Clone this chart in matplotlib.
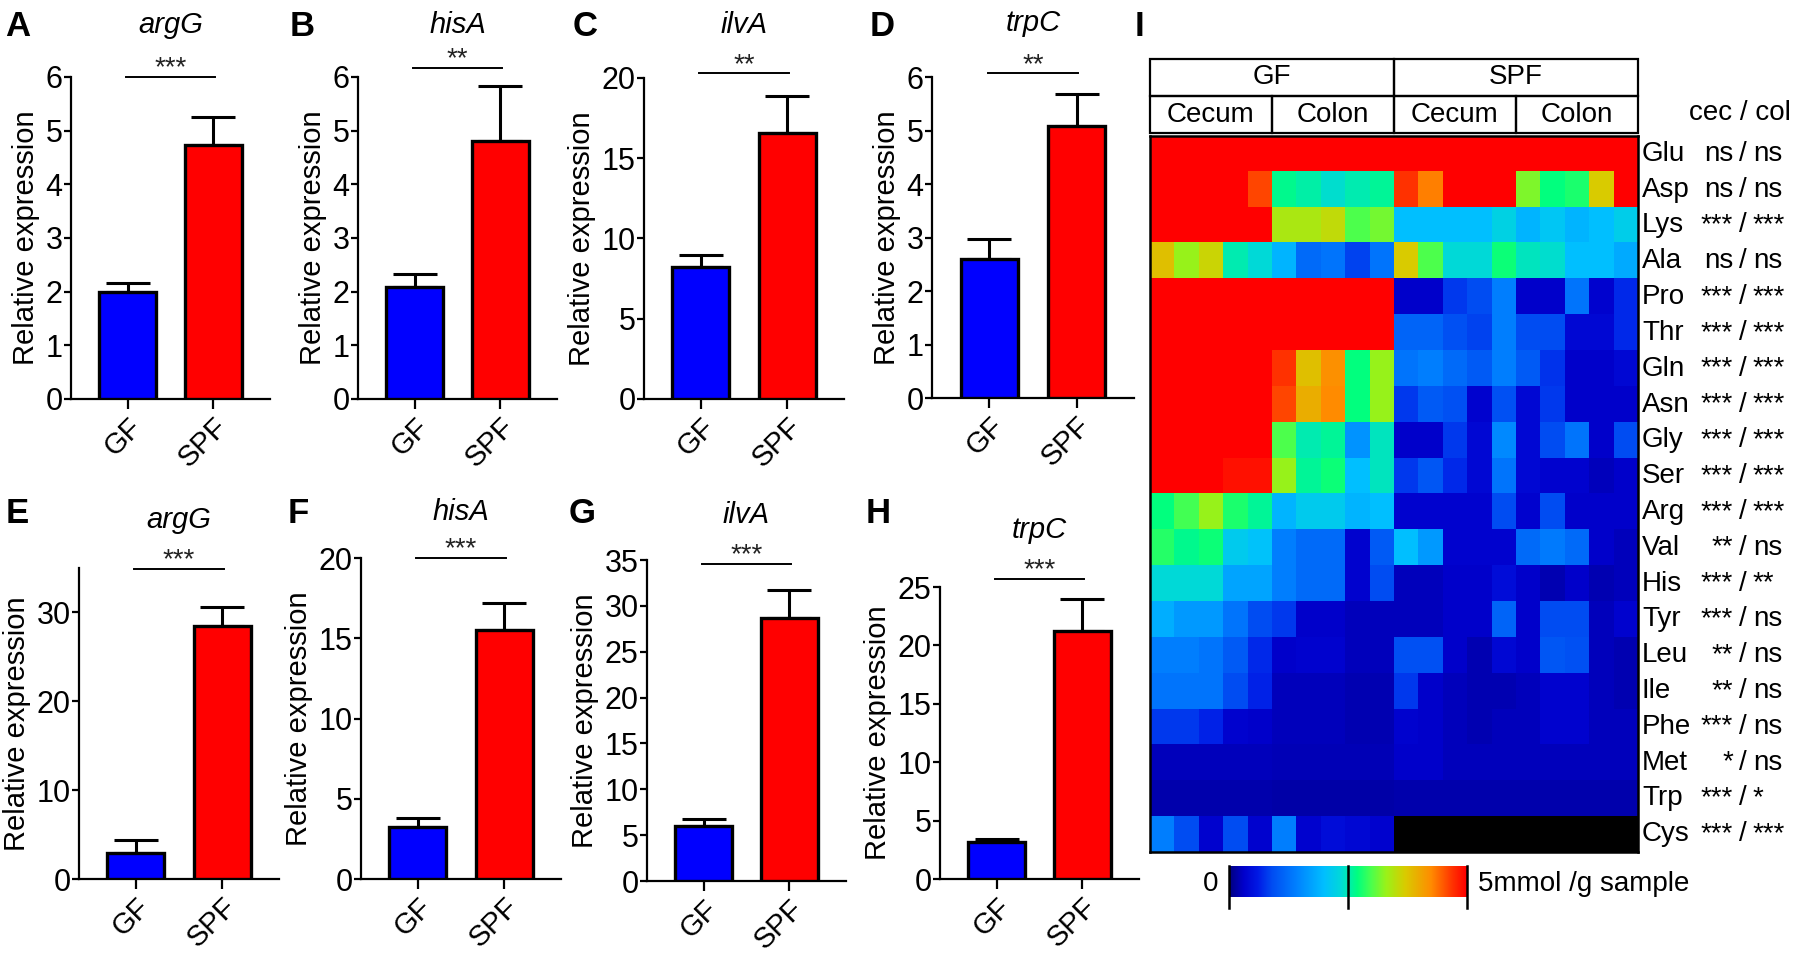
import numpy as np
import matplotlib
matplotlib.use('Agg')
import matplotlib.pyplot as plt
from matplotlib.colors import LinearSegmentedColormap
from matplotlib.patches import Rectangle
from matplotlib.transforms import blended_transform_factory

plt.rcParams['font.family'] = ['Liberation Sans', 'DejaVu Sans']

# ---- qPCR bar data (A-D top row, E-H bottom row) ----
genes = ['argG', 'hisA', 'ilvA', 'trpC']
groups = ['GF', 'SPF']

gf_top = [2.0, 2.09, 8.22, 2.6]
gf_top_err = [0.17, 0.24, 0.75, 0.37]
spf_top = [4.73, 4.81, 16.6, 5.08]
spf_top_err = [0.52, 1.02, 2.3, 0.6]
sig_top = ['***', '**', '**', '**']
sig_top_y = [6.0, 6.17, 20.3, 6.07]
ymax_top = [6, 6, 20, 6]
ystep_top = [1, 1, 5, 1]

gf_bot = [2.9, 3.25, 6.0, 3.17]
gf_bot_err = [1.5, 0.55, 0.76, 0.23]
spf_bot = [28.5, 15.5, 28.7, 21.2]
spf_bot_err = [2.1, 1.7, 3.0, 2.8]
sig_bot = ['***', '***', '***', '***']
sig_bot_y = [34.9, 20.0, 34.6, 25.7]
ymax_bot = [35, 20, 35, 25]
ytick_max_bot = [30, 20, 35, 25]
ystep_bot = [10, 5, 5, 5]

# ---- heatmap data (mmol/g sample), rows = amino acids ----
amino = ['Glu', 'Asp', 'Lys', 'Ala', 'Pro', 'Thr', 'Gln', 'Asn', 'Gly', 'Ser',
         'Arg', 'Val', 'His', 'Tyr', 'Leu', 'Ile', 'Phe', 'Met', 'Trp', 'Cys']
sig_cec = ['ns', 'ns', '***', 'ns', '***', '***', '***', '***', '***', '***',
           '***', '**', '***', '***', '**', '**', '***', '*', '***', '***']
sig_col = ['ns', 'ns', '***', 'ns', '***', '***', '***', '***', '***', '***',
           '***', 'ns', '**', 'ns', 'ns', 'ns', 'ns', 'ns', '*', '***']

nan = np.nan
gf_cecum = [
    [5, 5, 5, 5, 5], [5, 5, 5, 5, 4.6], [5, 5, 5, 5, 5], [3.8, 3.3, 3.6, 2.5, 2.35],
    [5, 5, 5, 5, 5], [5, 5, 5, 5, 5], [5, 5, 5, 5, 5], [5, 5, 5, 5, 5],
    [5, 5, 5, 5, 5], [5, 5, 5, 4.9, 4.9], [2.7, 2.95, 3.3, 2.8, 2.6],
    [2.85, 2.65, 2.75, 2.15, 2.05], [2.35, 2.35, 2.35, 1.75, 1.75],
    [1.85, 1.65, 1.65, 1.3, 0.9], [1.4, 1.4, 1.3, 1.05, 0.7], [1.3, 1.3, 1.3, 0.9, 0.65],
    [0.8, 0.8, 0.65, 0.35, 0.3], [0.25, 0.25, 0.25, 0.25, 0.25],
    [0.18, 0.18, 0.18, 0.18, 0.18], [1.4, 0.9, 0.35, 0.9, 0.35]]
gf_colon = [
    [5, 5, 5, 5, 5], [2.65, 2.55, 2.4, 2.5, 2.6], [3.4, 3.4, 3.55, 3.0, 3.15],
    [1.9, 1.2, 1.3, 0.85, 1.3], [5, 5, 5, 5, 5], [5, 5, 5, 5, 5],
    [4.7, 3.8, 4.2, 2.7, 3.3], [4.6, 3.95, 4.25, 2.7, 3.3], [3.0, 2.5, 2.6, 1.6, 2.45],
    [3.3, 2.6, 2.75, 2.0, 2.45], [1.9, 2.15, 2.15, 1.9, 2.0], [1.4, 1.2, 1.2, 0.35, 1.05],
    [1.4, 1.2, 1.2, 0.35, 0.9], [0.8, 0.3, 0.3, 0.25, 0.25], [0.3, 0.35, 0.35, 0.25, 0.25],
    [0.25, 0.25, 0.25, 0.2, 0.2], [0.25, 0.25, 0.25, 0.2, 0.2],
    [0.22, 0.22, 0.22, 0.22, 0.22], [0.16, 0.16, 0.16, 0.16, 0.16],
    [1.4, 0.35, 0.45, 0.4, 0.35]]
spf_cecum = [
    [5, 5, 5, 5, 5], [4.7, 4.3, 5, 5, 5], [2.0, 2.0, 2.0, 2.0, 2.25],
    [3.7, 3.0, 2.35, 2.35, 2.75], [0.3, 0.3, 0.8, 0.9, 1.4], [1.15, 1.15, 0.95, 0.85, 1.4],
    [1.3, 1.4, 1.2, 1.05, 1.4], [0.8, 1.05, 0.95, 0.35, 0.95], [0.3, 0.3, 0.8, 0.4, 1.5],
    [0.8, 1.0, 0.7, 0.4, 1.3], [0.35, 0.35, 0.35, 0.35, 0.9], [2.0, 1.65, 0.35, 0.35, 0.35],
    [0.25, 0.25, 0.3, 0.3, 0.45], [0.25, 0.25, 0.3, 0.3, 1.15], [0.95, 0.95, 0.3, 0.2, 0.4],
    [0.8, 0.3, 0.25, 0.2, 0.2], [0.35, 0.3, 0.25, 0.2, 0.25], [0.3, 0.3, 0.25, 0.25, 0.25],
    [0.18, 0.18, 0.18, 0.18, 0.18], [nan, nan, nan, nan, nan]]
spf_colon = [
    [5, 5, 5, 5, 5], [3.2, 2.7, 2.8, 3.7, 5], [1.9, 2.1, 1.9, 2.0, 2.2],
    [2.45, 2.4, 2.0, 2.0, 1.8], [0.3, 0.3, 1.3, 0.35, 0.7], [0.9, 0.9, 0.4, 0.4, 0.7],
    [1.05, 0.75, 0.3, 0.3, 0.4], [0.4, 0.8, 0.3, 0.3, 0.3], [0.4, 0.9, 1.3, 0.3, 0.9],
    [0.4, 0.35, 0.35, 0.25, 0.3], [0.35, 0.9, 0.3, 0.3, 0.3], [1.2, 1.35, 1.2, 0.3, 0.25],
    [0.3, 0.2, 0.3, 0.2, 0.25], [0.3, 0.9, 0.9, 0.25, 0.35], [0.3, 1.0, 0.95, 0.25, 0.2],
    [0.25, 0.35, 0.35, 0.25, 0.2], [0.25, 0.35, 0.35, 0.25, 0.25],
    [0.25, 0.25, 0.25, 0.25, 0.25], [0.18, 0.18, 0.18, 0.18, 0.18],
    [nan, nan, nan, nan, nan]]

W, H = 1800, 955
fig = plt.figure(figsize=(W / 100, H / 100), dpi=100)


def px_axes(x0, y0, x1, y1):
    return fig.add_axes([x0 / W, 1 - y1 / H, (x1 - x0) / W, (y1 - y0) / H])


def fx(x):
    return x / W


def fy(y):
    return 1 - y / H


def bar_panel(ax, gf, gf_e, spf, spf_e, ymax, ystep, ytop, sig, sig_y, title, title_py):
    xs = [0, 1]
    ax.errorbar(xs, [gf, spf], yerr=[[0, 0], [gf_e, spf_e]], fmt='none',
                ecolor='black', elinewidth=2.2, capsize=16, capthick=2.2, zorder=2)
    ax.bar(xs, [gf, spf], width=0.66, color=['#0000ff', '#ff0000'],
           edgecolor='black', linewidth=2.4, zorder=3)
    ax.set_xlim(-0.66, 1.66)
    ax.set_ylim(0, ymax)
    ax.set_yticks(np.arange(0, ytop + 0.01, ystep))
    ax.set_xticks(xs)
    ax.set_xticklabels(groups, rotation=45, ha='right', va='top', rotation_mode='anchor')
    for s in ['top', 'right']:
        ax.spines[s].set_visible(False)
    for s in ['left', 'bottom']:
        ax.spines[s].set_linewidth(1.6)
    ax.tick_params(axis='y', labelsize=22, width=1.6, length=5, pad=1)
    ax.tick_params(axis='x', labelsize=21, width=1.6, length=7, pad=3)
    ax.set_ylabel('Relative expression', fontsize=21, labelpad=4)
    ax.plot([-0.02, 1.02], [sig_y, sig_y], color='black', lw=1.4, clip_on=False)
    ax.annotate(sig, xy=(0.5, sig_y), xytext=(0, 1), textcoords='offset points',
                ha='center', va='baseline', fontsize=20, color='#222222',
                annotation_clip=False)
    tr = blended_transform_factory(ax.transData, fig.transFigure)
    ax.text(0.5, fy(title_py), title, transform=tr, ha='center', va='baseline',
            fontsize=21, style='italic')


top_rects = [(71, 77, 270, 399), (358, 77, 557, 399), (644, 78, 844, 399), (932, 77, 1134, 398)]
bot_rects = [(79, 568, 279, 879), (361, 558, 561, 879), (647, 560, 846, 881), (940, 587, 1139, 879)]
top_title_py = [33, 33, 33, 31]
bot_title_py = [528, 520, 523, 538]

for i in range(4):
    ax = px_axes(*top_rects[i])
    bar_panel(ax, gf_top[i], gf_top_err[i], spf_top[i], spf_top_err[i], ymax_top[i],
              ystep_top[i], ymax_top[i], sig_top[i], sig_top_y[i], genes[i], top_title_py[i])
    ax = px_axes(*bot_rects[i])
    bar_panel(ax, gf_bot[i], gf_bot_err[i], spf_bot[i], spf_bot_err[i], ymax_bot[i],
              ystep_bot[i], ytick_max_bot[i], sig_bot[i], sig_bot_y[i], genes[i], bot_title_py[i])

# panel letters
letters = [('A', 5, 10), ('B', 290, 10), ('C', 573, 10), ('D', 870, 10), ('I', 1135, 10),
           ('E', 6, 497), ('F', 288, 497), ('G', 569, 497), ('H', 866, 497)]
for lab, x, y in letters:
    fig.text(fx(x), fy(y), lab, fontsize=25, fontweight='bold', ha='left', va='top')

# ---- heatmap ----
cmap = LinearSegmentedColormap.from_list('aa', [
    (0.0, (0.0, 0.0, 0.5)), (0.06, (0.0, 0.0, 0.8)), (0.12, (0.0, 0.1, 0.9)),
    (0.18, (0.0, 0.3, 0.95)), (0.28, (0.0, 0.5, 1.0)), (0.40, (0.0, 0.75, 1.0)),
    (0.47, (0.0, 0.85, 0.85)), (0.50, (0.0, 0.92, 0.7)), (0.54, (0.0, 1.0, 0.5)),
    (0.60, (0.3, 1.0, 0.3)), (0.66, (0.6, 0.95, 0.1)), (0.74, (0.85, 0.8, 0.0)),
    (0.85, (1.0, 0.55, 0.0)), (0.94, (1.0, 0.2, 0.0)), (1.0, (1.0, 0.0, 0.0))])
cmap.set_bad('black')

mat = np.hstack([np.array(gf_cecum, float), np.array(gf_colon, float),
                 np.array(spf_cecum, float), np.array(spf_colon, float)])
hx0, hy0, hx1, hy1 = 1150, 136, 1638, 852
hax = px_axes(hx0, hy0, hx1, hy1)
hax.imshow(np.ma.masked_invalid(mat), cmap=cmap, vmin=0, vmax=5, aspect='auto',
           interpolation='nearest')
hax.set_xticks([])
hax.set_yticks([])
for s in hax.spines.values():
    s.set_linewidth(1.8)

row_h = (hy1 - hy0) / len(amino)
for i, aa in enumerate(amino):
    yc = fy(hy0 + (i + 0.5) * row_h)
    fig.text(fx(1642), yc, aa, fontsize=20, ha='left', va='center')
    fig.text(fx(1733), yc, sig_cec[i], fontsize=20, ha='right', va='center')
    fig.text(fx(1743), yc, '/', fontsize=20, ha='center', va='center')
    fig.text(fx(1753), yc, sig_col[i], fontsize=20, ha='left', va='center')

# header boxes
hdr = px_axes(hx0, 59, hx1, 133)
hdr.set_xlim(0, 20)
hdr.set_ylim(0, 2)
hdr.axis('off')
for x0, lab in [(0, 'GF'), (10, 'SPF')]:
    hdr.add_patch(Rectangle((x0, 1), 10, 1, fill=False, lw=1.6, clip_on=False))
    hdr.text(x0 + 5, 1.5, lab, ha='center', va='center', fontsize=20)
for x0, lab in [(0, 'Cecum'), (5, 'Colon'), (10, 'Cecum'), (15, 'Colon')]:
    hdr.add_patch(Rectangle((x0, 0), 5, 1, fill=False, lw=1.6, clip_on=False))
    hdr.text(x0 + 2.5, 0.5, lab, ha='center', va='center', fontsize=20)
fig.text(fx(1791), fy(113), 'cec / col', fontsize=20, ha='right', va='center')

# colour bar
cax = px_axes(1229, 866, 1467, 897)
cax.imshow(np.linspace(0, 5, 256).reshape(1, -1), cmap=cmap, vmin=0, vmax=5,
           aspect='auto', extent=[0, 1, 0, 1])
cax.set_xlim(0, 1)
cax.axis('off')
for xv in [0, 0.5, 1]:
    cax.axvline(xv, ymin=-0.35, ymax=1, color='black', lw=1.8, clip_on=False)
fig.text(fx(1218), fy(884), '0', fontsize=20, ha='right', va='center')
fig.text(fx(1478), fy(884), '5mmol /g sample', fontsize=20, ha='left', va='center')

fig.savefig('out.png', dpi=100)
